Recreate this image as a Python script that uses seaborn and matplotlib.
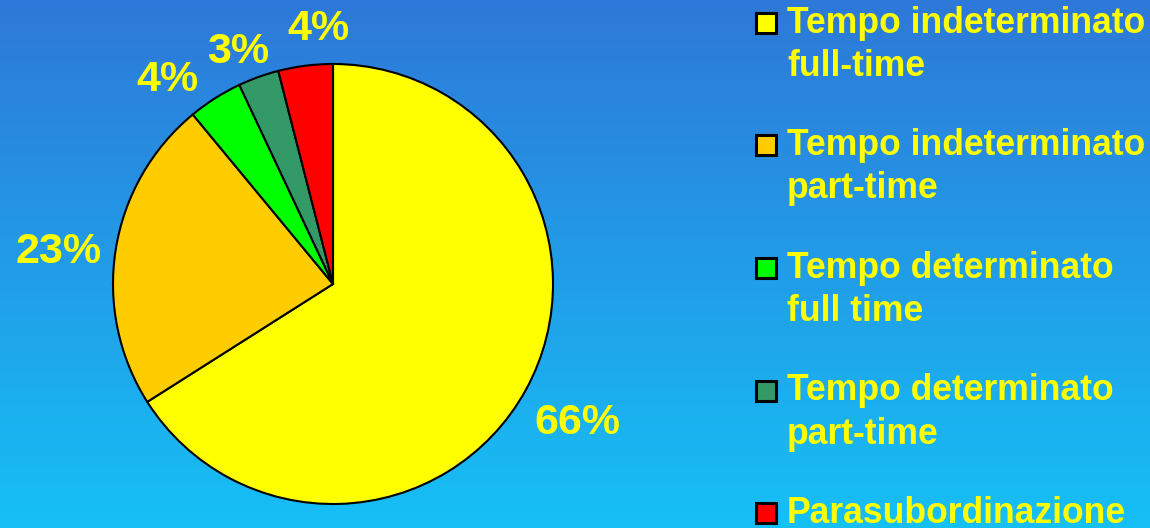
import numpy as np
import matplotlib
matplotlib.use("Agg")
import matplotlib.pyplot as plt
from matplotlib.colors import LinearSegmentedColormap
from matplotlib.patches import Rectangle
import seaborn as sns

sns.set_style("white")
plt.rcParams["font.family"] = ["Liberation Sans", "DejaVu Sans"]
plt.rcParams["font.weight"] = "bold"

# data
categories = [
    "Tempo indeterminato\nfull-time",
    "Tempo indeterminato\npart-time",
    "Tempo determinato\nfull time",
    "Tempo determinato\npart-time",
    "Parasubordinazione",
]
shares = [66, 23, 4, 3, 4]
slice_colors = ["#ffff00", "#ffcc00", "#00ff00", "#339966", "#ff0000"]
text_color = "#ffff00"

# label placement tweaks (distance in radii, angular nudge in degrees)
label_dist = [1.27, 1.26, 1.21, 1.16, 1.18]
label_nudge = [0, 1.5, 6, 2, -4]

W, H = 1150, 528
fig = plt.figure(figsize=(W / 100, H / 100), dpi=100)

# gradient background
bg = fig.add_axes([0, 0, 1, 1], zorder=-1)
grad = LinearSegmentedColormap.from_list("bg", ["#2e78d8", "#16c0f6"])
bg.imshow(np.linspace(0, 1, 256).reshape(-1, 1), cmap=grad, aspect="auto",
          extent=[0, 1, 0, 1])
bg.set_axis_off()

# pie: center (333, 284) px, radius 220 px
cx, cy, r, span = 333, 284, 220, 520
ax = fig.add_axes([(cx - span / 2) / W, (H - cy - span / 2) / H, span / W, span / H])
wedges, _, pcts = ax.pie(
    shares, colors=slice_colors, startangle=90, counterclock=False,
    autopct="%d%%", pctdistance=1.22,
    wedgeprops=dict(edgecolor="black", linewidth=1.5),
    textprops=dict(color=text_color, fontsize=31, fontweight="bold"),
)
for w, t, d, n in zip(wedges, pcts, label_dist, label_nudge):
    ang = np.deg2rad((w.theta1 + w.theta2) / 2 + n)
    t.set_position((d * np.cos(ang), d * np.sin(ang)))
    t.set_va("center_baseline")
lim = span / 2 / r
ax.set_xlim(-lim, lim)
ax.set_ylim(-lim, lim)
ax.set_axis_off()

# legend drawn at right
for i, (lab, col) in enumerate(zip(categories, slice_colors)):
    top = 13 + i * 122.5
    fig.patches.append(Rectangle((756 / W, 1 - (top + 20) / H), 20 / W, 20 / H,
                                 transform=fig.transFigure, facecolor=col,
                                 edgecolor="black", linewidth=2.2))
    for j, line in enumerate(lab.split("\n")):
        fig.text(787 / W, 1 - (top + 20 + j * 43) / H, line, color=text_color,
                 fontsize=25.6, fontweight="bold", va="baseline", ha="left")

fig.savefig("out.png", dpi=100)
